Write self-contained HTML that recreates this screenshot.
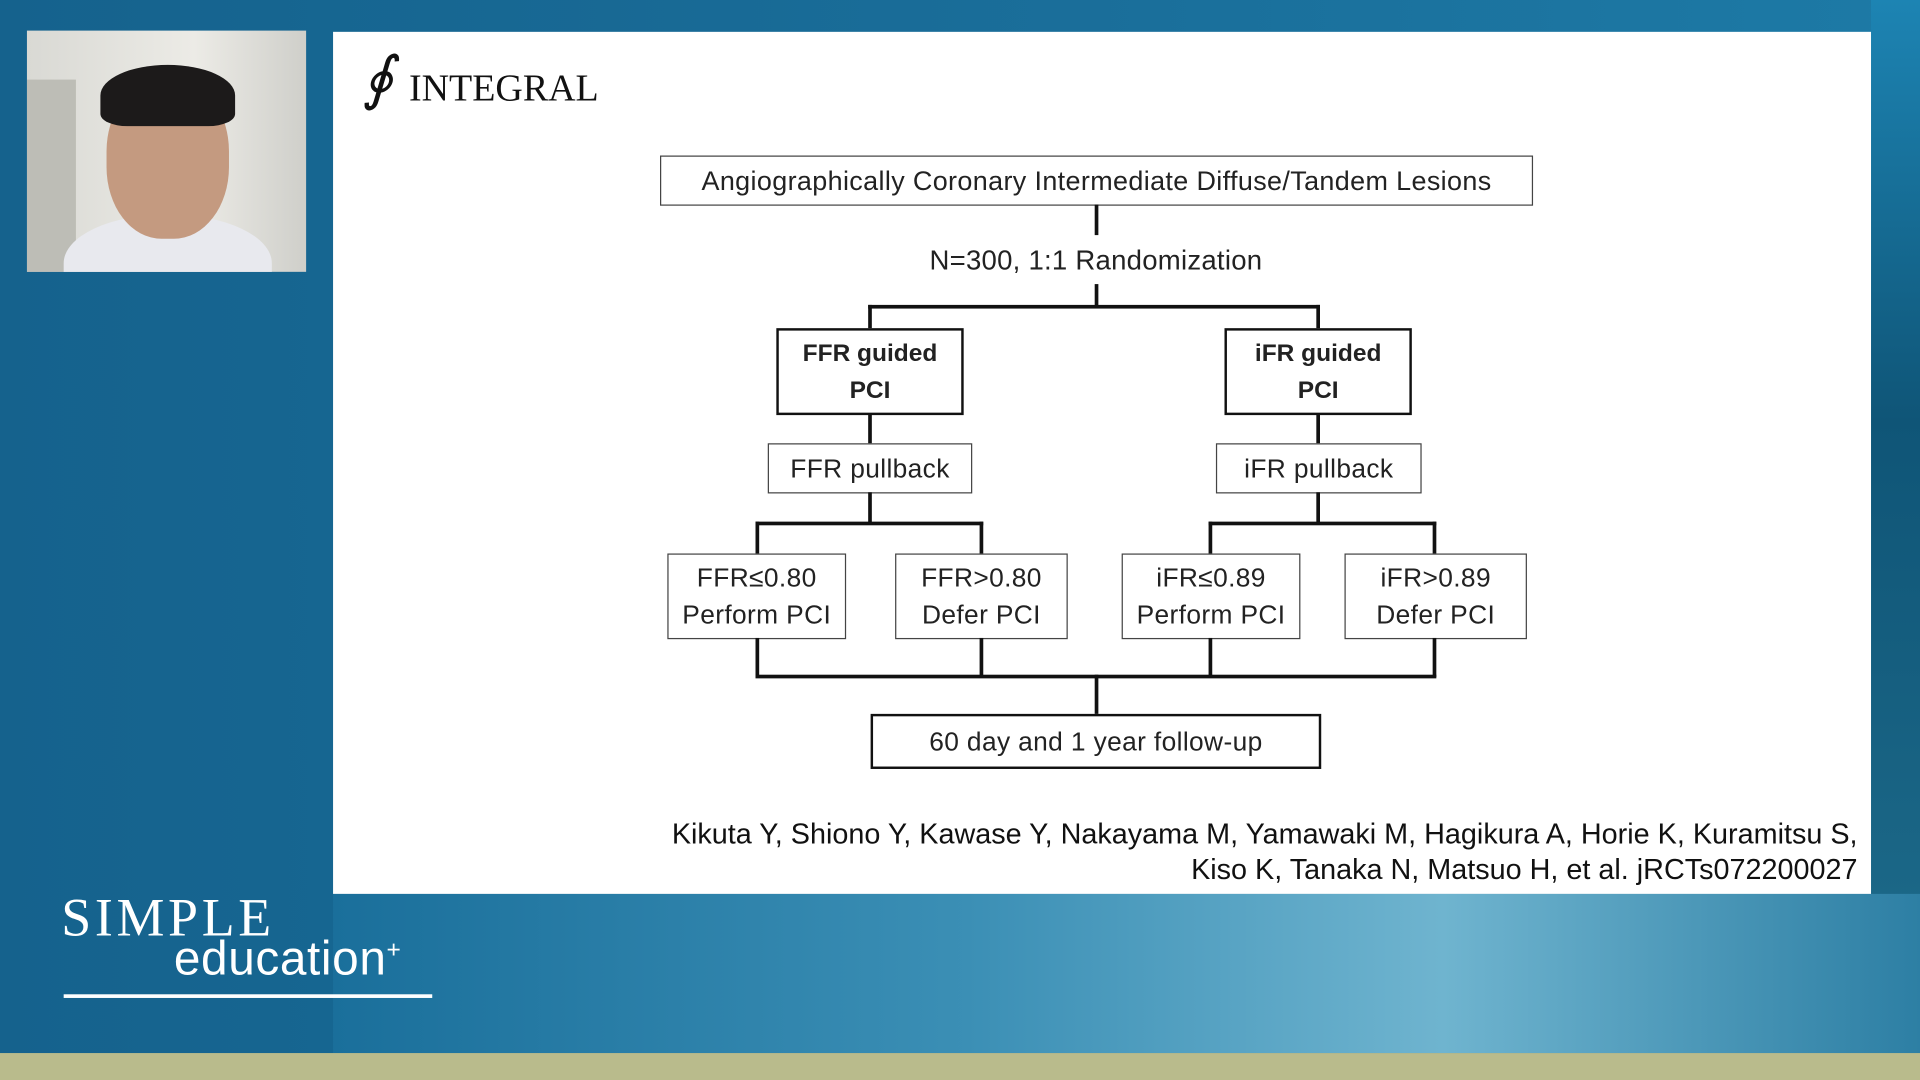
<!DOCTYPE html>
<html><head><meta charset="utf-8"><style>
html,body{margin:0;padding:0;width:1920px;height:1080px;overflow:hidden;background:#176a96}
#w{position:absolute;left:0;top:0;width:1568px;height:882px;transform:scale(1.22449);transform-origin:0 0;background:linear-gradient(90deg,#15628d 0%,#1a6f9b 60%,#1d7aa6 100%);font-family:"Liberation Sans",sans-serif}
.a{position:absolute}
.bx{position:absolute;border:1.3px solid #444;background:#fff;box-sizing:border-box;display:flex;align-items:center;justify-content:center;text-align:center;font-size:21.5px;letter-spacing:0.3px;color:#222;line-height:30px;white-space:nowrap}
.bd{border:2.5px solid #111;font-weight:bold;font-size:20px;letter-spacing:0}
.l{position:absolute;background:#111}
</style></head><body><div id="w">
<div class="a" style="left:1528px;top:0;width:40px;height:860px;background:linear-gradient(180deg,#1d84b3,#0f5577 40%,#1f6d8c)"></div>
<div class="a" style="left:272px;top:730px;width:1296px;height:130px;background:linear-gradient(90deg,#1a6f9b,#3b8fb5 40%,#6fb4cf 70%,#2d7fa4)"></div>
<div class="a" style="left:0;top:860px;width:1568px;height:22px;background:#b9bb8c"></div>
<div class="a" style="left:22px;top:25px;width:228px;height:197px;background:linear-gradient(90deg,#d9d9d4,#ecebe6 60%,#cfcfca);overflow:hidden">
 <div class="a" style="left:0;top:40px;width:40px;height:157px;background:#bdbdb6"></div>
 <div class="a" style="left:30px;top:150px;width:170px;height:80px;border-radius:50% 50% 0 0;background:#e8e9ee"></div>
 <div class="a" style="left:65px;top:40px;width:100px;height:130px;border-radius:45%;background:#c49a80"></div>
 <div class="a" style="left:60px;top:28px;width:110px;height:50px;border-radius:50% 50% 20% 20%;background:#1c1a1a"></div>
</div>
<div class="a" style="left:272px;top:26px;width:1256px;height:704px;background:#fff"></div>
<div class="a" style="left:296px;top:36px;font-family:'Liberation Serif',serif;font-size:48px;font-style:italic;color:#111">∮</div>
<div class="a" style="left:334px;top:54px;font-family:'Liberation Serif',serif;font-size:31px;color:#111">INTEGRAL</div>
<div class="bx" style="left:539px;top:127px;width:713px;height:41px;font-size:22px;letter-spacing:0.3px">Angiographically Coronary Intermediate Diffuse/Tandem Lesions</div>
<div class="l" style="left:894px;top:167px;width:2.5px;height:25px"></div>
<div class="a" style="left:695px;top:200px;width:400px;text-align:center;font-size:22.5px;letter-spacing:0.2px;color:#222">N=300, 1:1 Randomization</div>
<div class="l" style="left:894px;top:232px;width:2.5px;height:19px"></div>
<div class="l" style="left:709px;top:249px;width:369px;height:2.5px"></div>
<div class="l" style="left:709px;top:249px;width:2.5px;height:20px"></div>
<div class="l" style="left:1075px;top:249px;width:2.5px;height:20px"></div>
<div class="bx bd" style="left:634px;top:268px;width:153px;height:71px">FFR guided<br>PCI</div>
<div class="bx bd" style="left:1000px;top:268px;width:153px;height:71px">iFR guided<br>PCI</div>
<div class="l" style="left:709px;top:338px;width:2.5px;height:25px"></div>
<div class="l" style="left:1075px;top:338px;width:2.5px;height:25px"></div>
<div class="bx" style="left:627px;top:362px;width:167px;height:41px">FFR pullback</div>
<div class="bx" style="left:993px;top:362px;width:168px;height:41px">iFR pullback</div>
<div class="l" style="left:709px;top:402px;width:2.5px;height:25px"></div>
<div class="l" style="left:1075px;top:402px;width:2.5px;height:25px"></div>
<div class="l" style="left:617px;top:426px;width:186px;height:2.5px"></div>
<div class="l" style="left:987px;top:426px;width:186px;height:2.5px"></div>
<div class="l" style="left:617px;top:426px;width:2.5px;height:26px"></div>
<div class="l" style="left:800px;top:426px;width:2.5px;height:26px"></div>
<div class="l" style="left:987px;top:426px;width:2.5px;height:26px"></div>
<div class="l" style="left:1170px;top:426px;width:2.5px;height:26px"></div>
<div class="bx" style="left:545px;top:452px;width:146px;height:70px">FFR≤0.80<br>Perform PCI</div>
<div class="bx" style="left:731px;top:452px;width:141px;height:70px">FFR&gt;0.80<br>Defer PCI</div>
<div class="bx" style="left:916px;top:452px;width:146px;height:70px">iFR≤0.89<br>Perform PCI</div>
<div class="bx" style="left:1098px;top:452px;width:149px;height:70px">iFR&gt;0.89<br>Defer PCI</div>
<div class="l" style="left:617px;top:521px;width:2.5px;height:32px"></div>
<div class="l" style="left:800px;top:521px;width:2.5px;height:32px"></div>
<div class="l" style="left:987px;top:521px;width:2.5px;height:32px"></div>
<div class="l" style="left:1170px;top:521px;width:2.5px;height:32px"></div>
<div class="l" style="left:617px;top:551px;width:556px;height:2.5px"></div>
<div class="l" style="left:894px;top:551px;width:2.5px;height:33px"></div>
<div class="bx bd" style="left:711px;top:583px;width:368px;height:45px;font-weight:normal;font-size:21.5px;letter-spacing:0.3px">60 day and 1 year follow-up</div>
<div class="a" style="left:400px;top:667px;width:1117px;text-align:right;font-size:23.5px;line-height:29px;color:#111;white-space:nowrap">Kikuta Y, Shiono Y, Kawase Y, Nakayama M, Yamawaki M, Hagikura A, Horie K, Kuramitsu S,<br>Kiso K, Tanaka N, Matsuo H, et al. jRCTs072200027</div>
<div class="a" style="left:50px;top:724px;font-family:'Liberation Serif',serif;font-size:44px;color:#fff;letter-spacing:3px">SIMPLE</div>
<div class="a" style="left:142px;top:762px;font-size:39px;color:#fff;letter-spacing:0.5px">education<sup style="font-size:20px">+</sup></div>
<div class="a" style="left:52px;top:812px;width:301px;height:3px;background:#fff"></div>
</div></body></html>
